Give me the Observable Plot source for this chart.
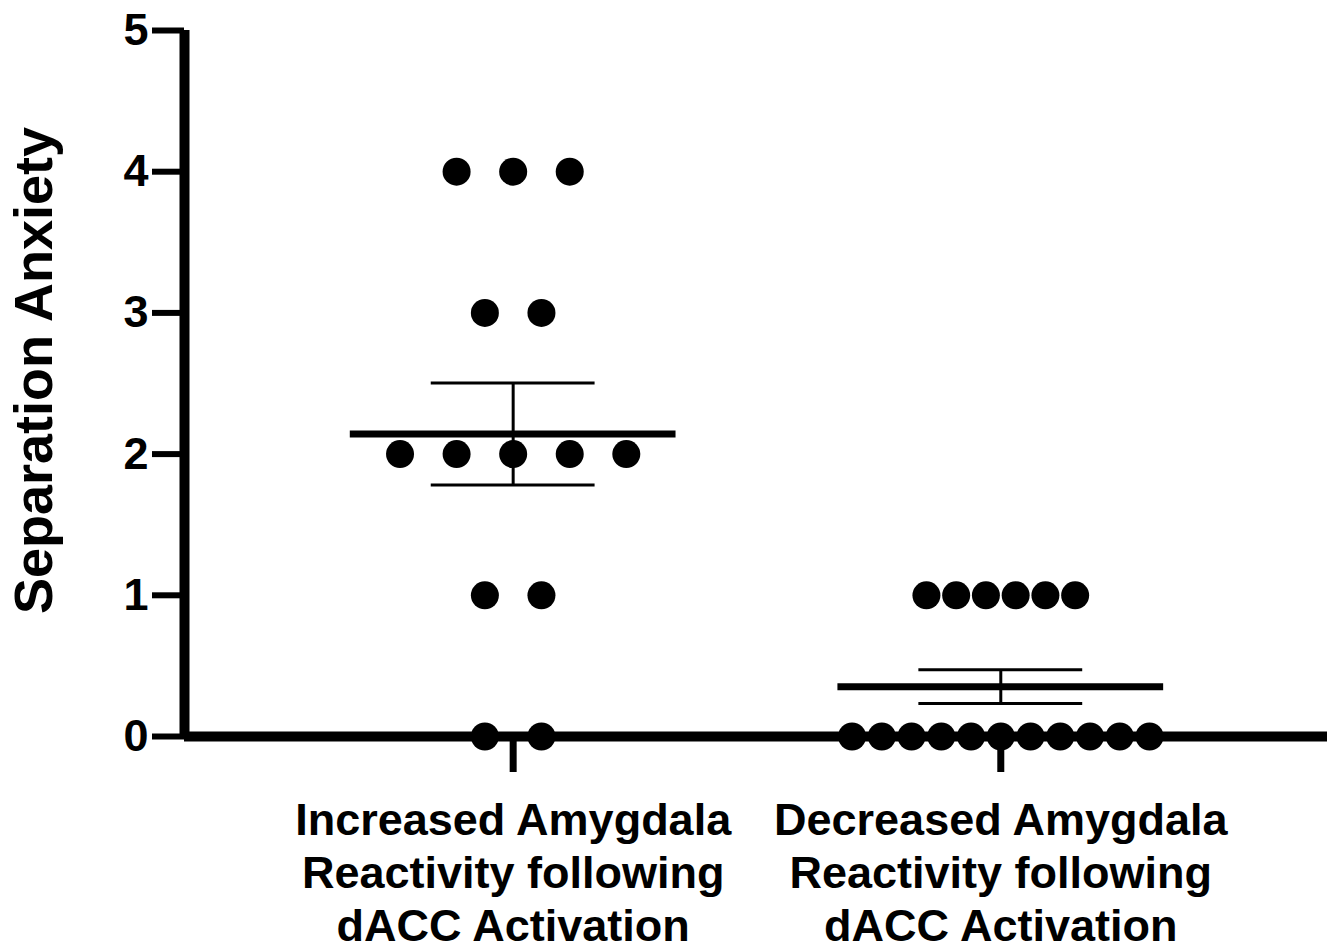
<!DOCTYPE html>
<html>
<head>
<meta charset="utf-8">
<script src="https://cdn.jsdelivr.net/npm/d3@7"></script>
<script src="https://cdn.jsdelivr.net/npm/@observablehq/plot@0.6"></script>
<style>
  html, body { margin: 0; padding: 0; background: #fff; }
</style>
</head>
<body>
<div id="chart"></div>
<script>
// ---- data ----
const groupLabels = [
  "Increased Amygdala\nReactivity following\ndACC Activation",
  "Decreased Amygdala\nReactivity following\ndACC Activation"
];
const increasedValues = [4, 4, 4, 3, 3, 2, 2, 2, 2, 2, 1, 1, 0, 0];
const decreasedValues = [1, 1, 1, 1, 1, 1, 0, 0, 0, 0, 0, 0, 0, 0, 0, 0, 0];
const yTicks = [0, 1, 2, 3, 4, 5];
const yTitle = "Separation Anxiety";

// ---- layout helpers (scatter spread inside each column) ----
const seriesList = [increasedValues, decreasedValues];
const spread = [0.116, 0.061]; // horizontal gap between dots, in x units
const points = [];
seriesList.forEach((vals, gi) => {
  const rows = d3.group(vals, v => v);
  for (const [v, arr] of rows) {
    const n = arr.length;
    arr.forEach((_, i) => {
      points.push({group: gi + 1, value: v, x: gi + 1 + (i - (n - 1) / 2) * spread[gi]});
    });
  }
});
const stats = seriesList.map((vals, gi) => {
  const m = d3.mean(vals);
  const sem = d3.deviation(vals) / Math.sqrt(vals.length);
  return {group: gi + 1, mean: m, lo: m - sem, hi: m + sem};
});

const meanHalf = 0.334, semHalf = 0.168;
const xDomain = [0.326, 2.67];

const chart = Plot.plot({
  width: 1337,
  height: 952,
  marginTop: 30,
  marginBottom: 216,
  marginLeft: 184,
  marginRight: 10,
  style: {fontFamily: "'Liberation Sans', Arial, sans-serif", fontWeight: "bold", background: "#fff", color: "#000"},
  x: {domain: xDomain, axis: null},
  y: {domain: [0, 5], axis: null},
  marks: [
    Plot.axisY({ticks: yTicks, tickFormat: d => String(d), tickSize: 32, tickPadding: 4, strokeWidth: 6, fontSize: 45, fontWeight: "bold", label: null}),
    Plot.axisX({ticks: [1, 2], tickFormat: i => groupLabels[i - 1], tickSize: 36, tickPadding: 25, strokeWidth: 7, fontSize: 45, fontWeight: "bold", lineHeight: 1.18, label: null}),
    Plot.ruleY([0], {strokeWidth: 10}),
    Plot.ruleX([xDomain[0]], {y1: 0, y2: 5, strokeWidth: 10}),
    Plot.dot(points, {x: "x", y: "value", r: 14, fill: "#000", stroke: "none"}),
    Plot.ruleY(stats, {y: "mean", x1: d => d.group - meanHalf, x2: d => d.group + meanHalf, strokeWidth: 7}),
    Plot.ruleY(stats, {y: "hi", x1: d => d.group - semHalf, x2: d => d.group + semHalf, strokeWidth: 3}),
    Plot.ruleY(stats, {y: "lo", x1: d => d.group - semHalf, x2: d => d.group + semHalf, strokeWidth: 3}),
    Plot.ruleX(stats, {x: "group", y1: "lo", y2: "hi", strokeWidth: 3}),
    Plot.text([yTitle], {frameAnchor: "left", textAnchor: "middle", rotate: -90, dx: -150, dy: -13, fontSize: 54, fontWeight: "bold"})
  ]
});
document.getElementById("chart").appendChild(chart);
</script>
</body>
</html>
